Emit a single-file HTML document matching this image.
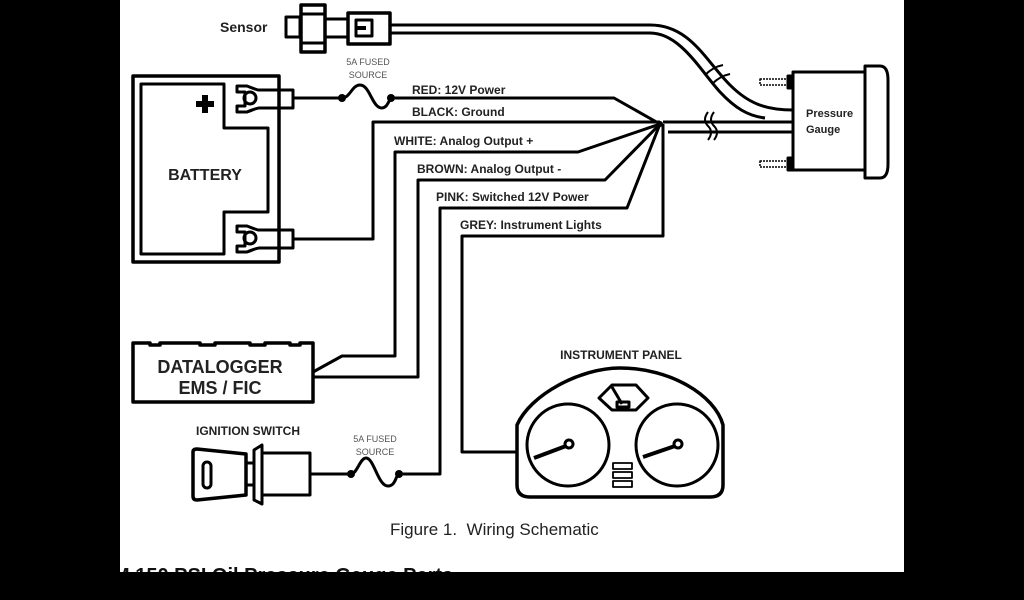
<!DOCTYPE html>
<html><head><meta charset="utf-8"><style>html,body{margin:0;padding:0;background:#000}svg{display:block}text{font-family:"Liberation Sans",Arial,sans-serif}</style></head><body>
<svg width="1024" height="600" viewBox="0 0 1024 600" xmlns="http://www.w3.org/2000/svg">
<rect width="1024" height="600" fill="#000"/>
<rect x="120" y="0" width="784" height="572" fill="#fff"/>
<text x="113" y="582" font-size="20" font-weight="bold" fill="#111">M 150 PSI Oil Pressure Gauge Parts</text>
<rect x="0" y="572" width="1024" height="28" fill="#000"/>
<rect x="0" y="0" width="120" height="600" fill="#000"/>
<g fill="none" stroke="#000" stroke-width="3" stroke-linejoin="round">
<!-- Sensor -->
<rect x="286" y="17" width="14" height="20"/>
<rect x="301" y="5" width="24" height="47" stroke-width="3.5"/>
<line x1="301" y1="14" x2="325" y2="14"/><line x1="301" y1="43" x2="325" y2="43"/>
<line x1="325" y1="19" x2="348" y2="19"/><line x1="325" y1="37" x2="348" y2="37"/>
<rect x="348" y="13" width="42" height="31" stroke-width="3.5"/>
<rect x="356" y="20" width="16" height="16"/>
<line x1="356" y1="28" x2="366" y2="28" stroke-width="4"/>
<path d="M390 25 H650 C690 25 705 60 730 85 C748 103 765 110 793 110"/>
<path d="M390 33 H650 C680 33 700 70 720 92 C735 108 748 116 765 118"/>
<path d="M705 75 q8 -8 18 -10 M712 84 q8 -8 18 -10" stroke-width="2"/>
<!-- Battery -->
<rect x="133" y="76" width="146" height="186" stroke-width="3.5"/>
<path d="M141 84 H224 V128 H268 V212 H224 V254 H141 Z"/>
<path d="M237 86 h10 q10 4 12 4 h34 v18 h-34 q-2 0 -12 4 h-10 v-6 h8 v-14 h-8 z"/>
<circle cx="250" cy="98" r="6"/>
<path d="M237 226 h10 q10 4 12 4 h34 v18 h-34 q-2 0 -12 4 h-10 v-6 h8 v-14 h-8 z"/>
<circle cx="250" cy="238" r="6"/>
<!-- top fuse -->
<path d="M293 98 H342 C350 98 352 85 360 85 C370 85 372 108 382 108 C388 108 389 98 392 98 H614 L660 124"/>
<path d="M293 239 H373 V122 H660"/>
<path d="M313 372 L342 356 H395 V152 H578 L660 124"/>
<path d="M313 377 H418 V180 H605 L660 124"/>
<path d="M310 474 H351 C357 474 360 458 366 458 C374 458 378 486 388 486 C396 486 396 474 399 474 H440 V208 H627 L660 124"/>
<path d="M518 452 H462 V236 H663 V124"/>
<path d="M663 122 H793 M668 132 H793"/>
<path d="M708 112 q-6 8 0 14 q6 6 0 14 M714 112 q-6 8 0 14 q6 6 0 14" stroke-width="2"/>
<!-- gauge -->
<rect x="793" y="72" width="72" height="98"/>
<path d="M865 66 H880 Q888 66 888 80 V164 Q888 178 880 178 H865 Z"/>
<rect x="760" y="79" width="28" height="6" stroke-width="1.5" stroke-dasharray="2 1"/>
<rect x="788" y="76" width="5" height="12" fill="#000"/>
<rect x="760" y="161" width="28" height="6" stroke-width="1.5" stroke-dasharray="2 1"/>
<rect x="788" y="158" width="5" height="12" fill="#000"/>
<!-- datalogger -->
<path d="M133 343 H150 V345 H160 V343 H200 V345 H215 V343 H250 V345 H265 V343 H290 V345 H300 V343 H313 V402 H133 Z" stroke-width="3.5"/>
<!-- ignition -->
<path d="M193 452 Q193 449 197 449 L246 454 V495 L197 500 Q193 500 193 496 Z" stroke-width="3.5"/>
<rect x="203" y="462" width="8" height="26" rx="4"/>
<rect x="246" y="463" width="8" height="22"/>
<path d="M254 450 L262 445 V504 L254 500 Z"/>
<rect x="262" y="453" width="48" height="42"/>
<!-- instrument panel -->
<path d="M517 425 C530 395 580 368 620 368 C670 368 715 395 723 425 V485 Q723 497 710 497 H530 Q517 497 517 485 Z" stroke-width="3.5"/>
<circle cx="568" cy="445" r="41"/>
<circle cx="677" cy="445" r="41"/>
<path d="M534 458 L566 446" stroke-width="4"/><circle cx="569" cy="444" r="4"/>
<path d="M643 457 L675 446" stroke-width="4"/><circle cx="678" cy="444" r="4"/>
<path d="M599 398 L612 385 H636 L648 398 L636 410 H612 Z"/>
<path d="M612 387 L622 404" stroke-width="3"/><rect x="617" y="402" width="12" height="5"/>
<rect x="613" y="463" width="19" height="6" stroke-width="1.8"/>
<rect x="613" y="472" width="19" height="6" stroke-width="1.8"/>
<rect x="613" y="481" width="19" height="6" stroke-width="1.8"/>
</g>
<g fill="#000">
<circle cx="342" cy="98" r="4"/><circle cx="391" cy="98" r="4"/>
<circle cx="351" cy="474" r="4"/><circle cx="399" cy="474" r="4"/>
<circle cx="660" cy="124" r="3"/>
<path d="M202 95 h6 v6 h6 v6 h-6 v6 h-6 v-6 h-6 v-6 h6 z"/>
</g>
<g font-weight="bold" fill="#222">
<text x="220" y="32" font-size="14">Sensor</text>
<text x="205" y="180" font-size="16" text-anchor="middle">BATTERY</text>
<text x="412" y="94" font-size="12">RED: 12V Power</text>
<text x="412" y="116" font-size="12">BLACK: Ground</text>
<text x="394" y="145" font-size="12">WHITE: Analog Output +</text>
<text x="417" y="173" font-size="12">BROWN: Analog Output -</text>
<text x="436" y="201" font-size="12">PINK: Switched 12V Power</text>
<text x="460" y="229" font-size="12">GREY: Instrument Lights</text>
<text x="806" y="117" font-size="11">Pressure</text>
<text x="806" y="133" font-size="11">Gauge</text>
<text x="220" y="373" font-size="18" text-anchor="middle">DATALOGGER</text>
<text x="220" y="394" font-size="18" text-anchor="middle">EMS / FIC</text>
<text x="248" y="435" font-size="12" text-anchor="middle">IGNITION SWITCH</text>
<text x="621" y="359" font-size="12" text-anchor="middle">INSTRUMENT PANEL</text>
</g>
<g fill="#555" font-size="9" text-anchor="middle">
<text x="368" y="65">5A FUSED</text><text x="368" y="78">SOURCE</text>
<text x="375" y="442">5A FUSED</text><text x="375" y="455">SOURCE</text>
</g>
<text x="390" y="535" font-size="17" fill="#222">Figure 1.&#160; Wiring Schematic</text>
</svg>
</body></html>
